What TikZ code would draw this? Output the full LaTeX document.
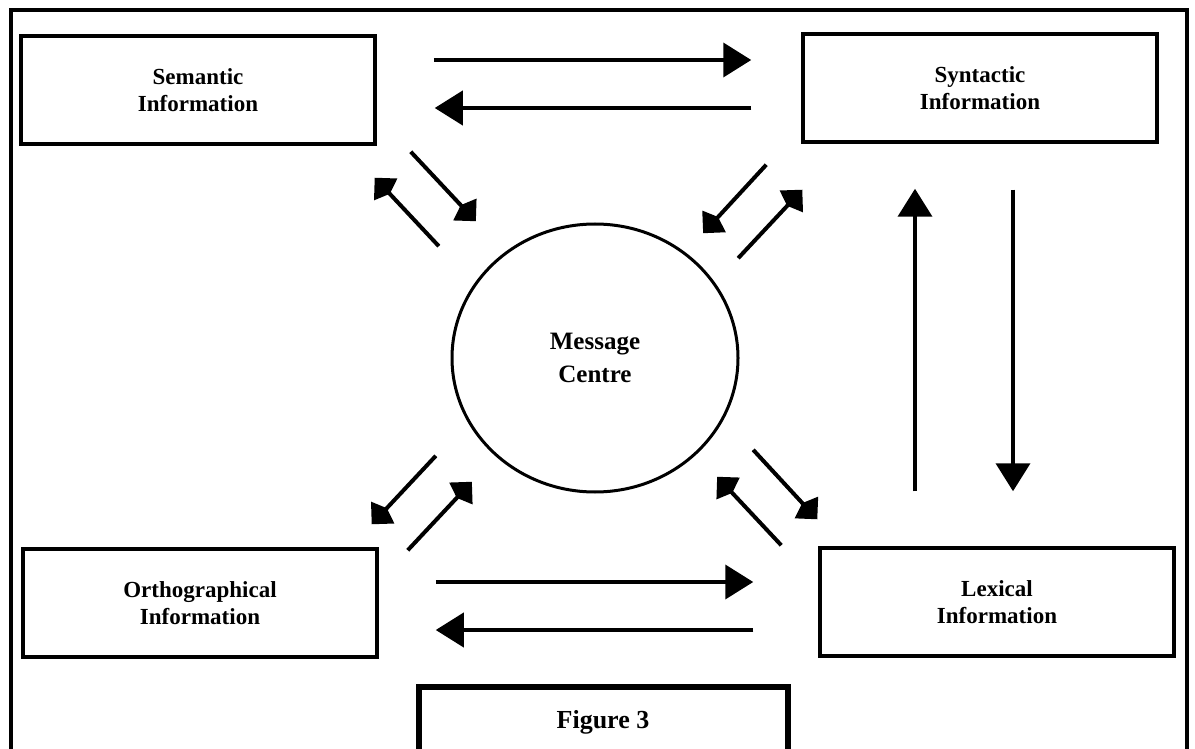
\documentclass[tikz,border=0pt]{standalone}
\usepackage{fontspec}
\setmainfont{Liberation Serif}
\usetikzlibrary{arrows.meta,shapes.geometric}
\newcommand\infofont{\bfseries\fontsize{23}{27}\selectfont}
\newcommand\centrefont{\bfseries\fontsize{25}{33}\selectfont}
\newcommand\figfont{\bfseries\fontsize{26}{30}\selectfont}
\tikzset{
	infobox/.style={draw, line width=3.5pt, minimum width=354pt, minimum height=108pt, align=center, font=\infofont},
	centre/.style={draw, ellipse, line width=3pt, minimum width=286pt, minimum height=268pt, align=center, font=\centrefont},
	figbox/.style={draw, line width=6pt, minimum width=369pt, minimum height=70pt, font=\figfont},
	frame/.style={line width=4pt},
	flow/.style={line width=4pt, -{Triangle[length=28pt, width=34pt]}},
	diag/.style={line width=4pt, -{Kite[length=22pt, width=32pt, inset=6pt]}}
}
\begin{document}
\begin{tikzpicture}[x=1pt, y=-1pt]
\useasboundingbox (0,0) rectangle (1195,749);
\clip (0,0) rectangle (1195,749);
\draw[frame] (11,780) -- (11,10) -- (1187,10) -- (1187,780);

\node[infobox] (sem) at (198,90) {Semantic\\Information};
\node[infobox] (syn) at (980,88) {Syntactic\\Information};
\node[infobox] (ort) at (200,603) {Orthographical\\Information};
\node[infobox] (lex) at (997,602) {Lexical\\Information};

\node[centre] (msg) at (595,358) {Message\\Centre};

\node[figbox] (fig) at (603,722) {Figure 3};

\draw[flow] ([shift={(57,-30)}]sem.east) -- ([shift={(-50,-28)}]syn.west);
\draw[flow] ([shift={(-50,20)}]syn.west) -- ([shift={(58,18)}]sem.east);

\draw[flow] ([shift={(57,-21)}]ort.east) -- ([shift={(-65,-20)}]lex.west);
\draw[flow] ([shift={(-65,28)}]lex.west) -- ([shift={(57,27)}]ort.east);

\draw[flow] ([shift={(-82,-55)}]lex.north) -- ([shift={(-65,45)}]syn.south);
\draw[flow] ([shift={(33,46)}]syn.south) -- ([shift={(16,-55)}]lex.north);

\draw[diag] ([shift={(34,6)}]sem.south east) -- ([shift={(-17,-41)}]msg.north west);
\draw[diag] ([shift={(-54,-16)}]msg.north west) -- ([shift={(-2,32)}]sem.south east);

\draw[diag] ([shift={(-35,21)}]syn.south west) -- ([shift={(6,-29)}]msg.north east);
\draw[diag] ([shift={(41,-4)}]msg.north east) -- ([shift={(1,46)}]syn.south west);

\draw[diag] ([shift={(-57,2)}]msg.south west) -- ([shift={(-7,-23)}]ort.north east);
\draw[diag] ([shift={(29,3)}]ort.north east) -- ([shift={(-21,28)}]msg.south west);

\draw[diag] ([shift={(56,-4)}]msg.south east) -- ([shift={(-1,-27)}]lex.north west);
\draw[diag] ([shift={(-37,-1)}]lex.north west) -- ([shift={(20,23)}]msg.south east);
\end{tikzpicture}
\end{document}
